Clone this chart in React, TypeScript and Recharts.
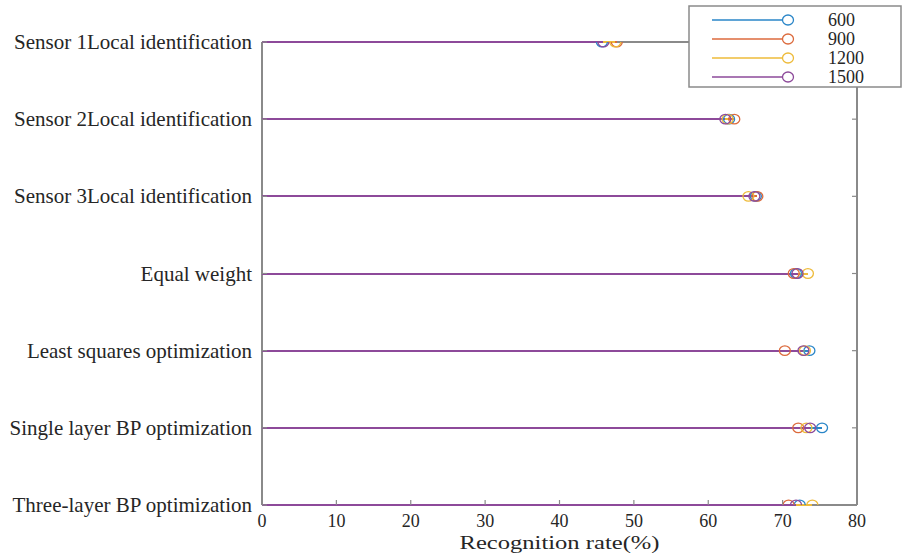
import React from 'react';
import { ScatterChart, Scatter, XAxis, YAxis, ReferenceLine, Legend, Label } from 'recharts';

const categories = [
  'Sensor 1Local identification',
  'Sensor 2Local identification',
  'Sensor 3Local identification',
  'Equal weight',
  'Least squares optimization',
  'Single layer BP optimization',
  'Three-layer BP optimization',
];
const s600 = [45.7, 62.8, 66.4, 71.8, 73.6, 75.3, 72.3];
const s900 = [47.7, 63.5, 66.6, 71.5, 70.3, 72.1, 70.8];
const s1200 = [47.5, 62.6, 65.4, 73.4, 73.0, 73.2, 74.0];
const s1500 = [45.9, 62.3, 66.2, 72.0, 72.8, 73.7, 71.8];
const seriesNames = ['600', '900', '1200', '1500'];
const seriesValues = [s600, s900, s1200, s1500];
const colors = ['#2a86c8', '#dc6a3c', '#eebb3a', '#8d4a9a'];
const xTicks = [0, 10, 20, 30, 40, 50, 60, 70, 80];
const yTicks = [1, 2, 3, 4, 5, 6, 7];
const xLabel = 'Recognition rate(%)';

const AXIS = '#8a8a8a';
const TEXT = '#262626';
const FONT = '"Liberation Serif", "Times New Roman", serif';

const series = seriesValues.map((vals, si) => ({
  name: seriesNames[si],
  color: colors[si],
  data: vals.map((v, i) => ({ x: v, y: i + 1 })),
}));

const BottomTick = (p: any) => (
  <g>
    <line x1={p.x} x2={p.x} y1={p.y} y2={p.y - 5} stroke={AXIS} strokeWidth={1.2} />
    <text x={p.x} y={p.y + 22} textAnchor="middle" fontFamily={FONT} fontSize={18} fill={TEXT}>
      {p.payload.value}
    </text>
  </g>
);
const TopTick = (p: any) => (
  <line x1={p.x} x2={p.x} y1={p.y} y2={p.y + 5} stroke={AXIS} strokeWidth={1.2} />
);
const LeftTick = (p: any) => (
  <g>
    <line x1={p.x} x2={p.x + 5} y1={p.y} y2={p.y} stroke={AXIS} strokeWidth={1.2} />
    <text x={p.x - 10} y={p.y + 7} textAnchor="end" fontFamily={FONT} fontSize={21} fill={TEXT}>
      {categories[p.payload.value - 1]}
    </text>
  </g>
);
const RightTick = (p: any) => (
  <line x1={p.x} x2={p.x - 5} y1={p.y} y2={p.y} stroke={AXIS} strokeWidth={1.2} />
);

const XLabelContent = (p: any) => {
  const vb = p.viewBox;
  return (
    <text
      x={vb.x + vb.width / 2}
      y={vb.y + 44}
      textAnchor="middle"
      fontFamily={FONT}
      fontSize={19}
      fill={TEXT}
      textLength={200}
      lengthAdjust="spacingAndGlyphs"
    >
      {xLabel}
    </text>
  );
};

const LegendContent = () => (
  <svg width={214} height={83} style={{ display: 'block' }}>
    <rect x={1} y={1} width={212} height={81} fill="#fff" stroke={AXIS} strokeWidth={1.5} />
    {series.map((s, i) => (
      <g key={s.name}>
        <line x1={24} x2={100} y1={15 + i * 19} y2={15 + i * 19} stroke={s.color} strokeWidth={1.5} />
        <ellipse cx={100} cy={15 + i * 19} rx={5.5} ry={5} fill="#fff" stroke={s.color} strokeWidth={1.3} />
        <text x={140} y={15 + i * 19 + 6} fontFamily={FONT} fontSize={18} fill={TEXT}>
          {s.name}
        </text>
      </g>
    ))}
  </svg>
);

export default function App() {
  return (
    <div style={{ position: 'absolute', left: 0, top: 0, background: '#fff' }}>
      <ScatterChart width={903} height={554} margin={{ top: 41, right: 45, bottom: 0, left: 0 }}>
        <XAxis
          type="number"
          dataKey="x"
          domain={[0, 80]}
          ticks={xTicks}
          allowDataOverflow
          height={49}
          tickSize={0}
          tickMargin={0}
          tickLine={false}
          axisLine={{ stroke: AXIS, strokeWidth: 2 }}
          tick={<BottomTick />}
          interval={0}
        >
          <Label content={<XLabelContent />} />
        </XAxis>
        <XAxis
          xAxisId="top"
          orientation="top"
          type="number"
          domain={[0, 80]}
          ticks={xTicks}
          allowDataOverflow
          height={1}
          tickSize={0}
          tickMargin={0}
          tickLine={false}
          axisLine={{ stroke: AXIS, strokeWidth: 2 }}
          tick={<TopTick />}
          interval={0}
        />
        <YAxis
          type="number"
          dataKey="y"
          domain={[1, 7]}
          ticks={yTicks}
          reversed
          allowDataOverflow
          width={262}
          tickSize={0}
          tickMargin={0}
          tickLine={false}
          axisLine={{ stroke: AXIS, strokeWidth: 2 }}
          tick={<LeftTick />}
          interval={0}
        />
        <YAxis
          yAxisId="right"
          orientation="right"
          type="number"
          domain={[1, 7]}
          ticks={yTicks}
          reversed
          allowDataOverflow
          width={1}
          tickSize={0}
          tickMargin={0}
          tickLine={false}
          axisLine={{ stroke: AXIS, strokeWidth: 2 }}
          tick={<RightTick />}
          interval={0}
        />
        {series.map((s) =>
          s.data.map((d, i) => (
            <ReferenceLine
              key={s.name + '-' + i}
              segment={[
                { x: 0, y: d.y },
                { x: d.x, y: d.y },
              ]}
              stroke={s.color}
              strokeWidth={2}
              shapeRendering="crispEdges"
              ifOverflow="visible"
              zIndex={1000}
            />
          ))
        )}
        {series.map((s) => (
          <Scatter
            key={s.name}
            name={s.name}
            data={s.data}
            isAnimationActive={false}
            zIndex={1100}
            shape={(p: any) => (
              <ellipse cx={p.cx} cy={p.cy} rx={5.5} ry={4.8} fill="none" stroke={s.color} strokeWidth={1.3} />
            )}
          />
        ))}
        <Legend
          layout="vertical"
          align="center"
          verticalAlign="middle"
          content={<LegendContent />}
          wrapperStyle={{ position: 'absolute', left: 688, top: 5, width: 214, height: 83 }}
        />
      </ScatterChart>
    </div>
  );
}
